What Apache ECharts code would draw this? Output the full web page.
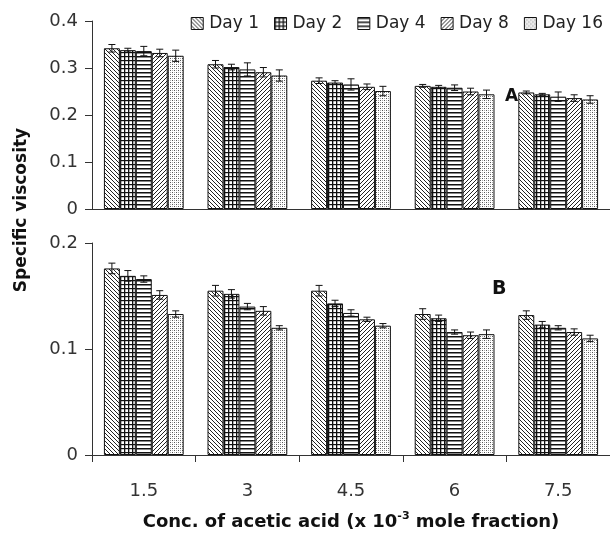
<!DOCTYPE html>
<html>
<head>
<meta charset="utf-8">
<script src="https://cdn.jsdelivr.net/npm/echarts@6/dist/echarts.min.js"></script>
<style>
  html, body { margin: 0; padding: 0; background: #fff; }
  #chart { width: 610px; height: 545px; }
</style>
</head>
<body>
<div id="chart"></div>
<script>
// categories (conc. of acetic acid, x10^-3 mole fraction)
const categories = ['1.5', '3', '4.5', '6', '7.5']
const days = ['Day 1', 'Day 2', 'Day 4', 'Day 8', 'Day 16']

// panel A: specific viscosity per day, one array per day across categories
const valuesA = [
  [0.342, 0.308, 0.273, 0.262, 0.248],
  [0.338, 0.302, 0.269, 0.260, 0.244],
  [0.336, 0.297, 0.265, 0.258, 0.239],
  [0.332, 0.291, 0.260, 0.250, 0.236],
  [0.326, 0.284, 0.251, 0.244, 0.233]
]
const errorsA = [
  [0.008, 0.008, 0.006, 0.003, 0.003],
  [0.004, 0.006, 0.004, 0.003, 0.002],
  [0.010, 0.014, 0.012, 0.006, 0.010],
  [0.008, 0.010, 0.006, 0.007, 0.007],
  [0.012, 0.012, 0.010, 0.009, 0.008]
]

// panel B
const valuesB = [
  [0.176, 0.155, 0.155, 0.133, 0.132],
  [0.169, 0.152, 0.143, 0.129, 0.123],
  [0.166, 0.140, 0.134, 0.116, 0.120],
  [0.151, 0.136, 0.128, 0.113, 0.116],
  [0.133, 0.120, 0.122, 0.114, 0.110]
]
const errorsB = [
  [0.005, 0.005, 0.005, 0.005, 0.004],
  [0.005, 0.004, 0.003, 0.003, 0.003],
  [0.003, 0.003, 0.003, 0.002, 0.002],
  [0.004, 0.004, 0.002, 0.003, 0.003],
  [0.003, 0.002, 0.002, 0.004, 0.003]
]

const ticksA = { min: 0, max: 0.4, interval: 0.1 }
const ticksB = { min: 0, max: 0.2, interval: 0.1 }

// hatch patterns, one per day
const makePattern = (kind) => {
  const c = document.createElement('canvas')
  const s = 4
  c.width = s
  c.height = s
  const ctx = c.getContext('2d')
  ctx.fillStyle = '#fff'
  ctx.fillRect(0, 0, s, s)
  ctx.strokeStyle = '#222'
  ctx.lineWidth = 1
  if (kind === 'back') {
    ctx.beginPath()
    ctx.moveTo(-1, -1); ctx.lineTo(s + 1, s + 1)
    ctx.moveTo(-1, s - 1); ctx.lineTo(1, s + 1)
    ctx.moveTo(s - 1, -1); ctx.lineTo(s + 1, 1)
    ctx.stroke()
  } else if (kind === 'fwd') {
    ctx.beginPath()
    ctx.moveTo(-1, s + 1); ctx.lineTo(s + 1, -1)
    ctx.moveTo(-1, 1); ctx.lineTo(1, -1)
    ctx.moveTo(s - 1, s + 1); ctx.lineTo(s + 1, s - 1)
    ctx.stroke()
  } else if (kind === 'grid') {
    ctx.fillStyle = '#111'
    ctx.fillRect(0, 0, 1.3, s)
    ctx.fillRect(0, 0, s, 1.2)
  } else if (kind === 'horiz') {
    ctx.fillStyle = '#111'
    ctx.fillRect(0, 0, s, 1.5)
  } else if (kind === 'dots') {
    ctx.fillStyle = '#555'
    ctx.fillRect(0, 0, 1, 1)
    ctx.fillRect(2, 2, 1, 1)
    ctx.fillStyle = '#aaa'
    ctx.fillRect(2, 0, 1, 1)
    ctx.fillRect(0, 2, 1, 1)
  }
  return { image: c, repeat: 'repeat' }
}
const patterns = ['back', 'grid', 'horiz', 'fwd', 'dots'].map(makePattern)

const chart = echarts.init(document.getElementById('chart'))

const font = '"DejaVu Sans", Verdana, sans-serif'
const nSeries = days.length
const catGap = 0.23

const errorSeries = (vals, errs, idx, axisIdx) => ({
  type: 'custom',
  name: days[idx] + ' err',
  xAxisIndex: axisIdx,
  yAxisIndex: axisIdx,
  z: 5,
  silent: true,
  data: vals.map((v, i) => [i, v, errs[i]]),
  renderItem: (params, api) => {
    const band = api.size([1, 0])[0]
    const barW = band * (1 - catGap) / nSeries
    const center = api.coord([api.value(0), api.value(1)])
    const x = center[0] + (idx - (nSeries - 1) / 2) * barW
    const top = api.coord([api.value(0), api.value(1) + api.value(2)])[1]
    const bot = api.coord([api.value(0), api.value(1) - api.value(2)])[1]
    const cap = 3.5
    const style = { stroke: '#111', lineWidth: 1 }
    return {
      type: 'group',
      children: [
        { type: 'line', shape: { x1: x, y1: top, x2: x, y2: bot }, style },
        { type: 'line', shape: { x1: x - cap, y1: top, x2: x + cap, y2: top }, style },
        { type: 'line', shape: { x1: x - cap, y1: bot, x2: x + cap, y2: bot }, style }
      ]
    }
  }
})

const barSeries = (vals, idx, axisIdx) => ({
  type: 'bar',
  name: days[idx],
  xAxisIndex: axisIdx,
  yAxisIndex: axisIdx,
  data: vals,
  barGap: '0%',
  barCategoryGap: (catGap * 100) + '%',
  itemStyle: { color: patterns[idx], borderColor: '#111', borderWidth: 1 }
})

const series = []
valuesA.forEach((v, i) => series.push(barSeries(v, i, 0)))
valuesB.forEach((v, i) => series.push(barSeries(v, i, 1)))
valuesA.forEach((v, i) => series.push(errorSeries(v, errorsA[i], i, 0)))
valuesB.forEach((v, i) => series.push(errorSeries(v, errorsB[i], i, 1)))

const yAxisBase = (t) => ({
  type: 'value',
  min: t.min,
  max: t.max,
  interval: t.interval,
  axisLine: { show: true, lineStyle: { color: '#333', width: 1 } },
  axisTick: { show: true, length: 7, lineStyle: { color: '#333' } },
  axisLabel: {
    color: '#333', fontSize: 18, fontFamily: font, margin: 14,
    formatter: (v) => String(Math.round(v * 10) / 10)
  },
  splitLine: { show: false }
})

const option = {
  animation: false,
  backgroundColor: '#fff',
  legend: {
    data: days,
    icon: 'rect',
    right: 2,
    top: 10,
    itemWidth: 12,
    itemHeight: 12,
    itemGap: 15,
    itemStyle: { borderColor: '#111', borderWidth: 1 },
    textStyle: { color: '#222', fontSize: 17, fontFamily: font, padding: [0, 0, 0, 1] }
  },
  grid: [
    { left: 92, top: 21, width: 525, height: 188 },
    { left: 92, top: 243, width: 525, height: 212 }
  ],
  xAxis: [
    {
      type: 'category',
      gridIndex: 0,
      data: categories,
      axisLine: { lineStyle: { color: '#333' } },
      axisTick: { show: false },
      axisLabel: { show: false }
    },
    {
      type: 'category',
      gridIndex: 1,
      data: categories,
      axisLine: { lineStyle: { color: '#333' } },
      axisTick: { show: true, length: 7, lineStyle: { color: '#333' } },
      axisLabel: { color: '#333', fontSize: 18, fontFamily: font, margin: 27 },
      name: '{a|Conc. of acetic acid (x 10}{s|-3}{a| mole fraction)}',
      nameLocation: 'middle',
      nameGap: 56,
      nameTextStyle: {
        rich: {
          a: { fontSize: 18, fontWeight: 'bold', fontFamily: font, color: '#111', verticalAlign: 'bottom' },
          s: { fontSize: 11, fontWeight: 'bold', fontFamily: font, color: '#111', verticalAlign: 'top', padding: [0, 0, 9, 0] }
        }
      }
    }
  ],
  yAxis: [
    Object.assign(yAxisBase(ticksA), { gridIndex: 0 }),
    Object.assign(yAxisBase(ticksB), { gridIndex: 1 })
  ],
  graphic: [
    {
      type: 'text', x: 22, y: 210,
      rotation: Math.PI / 2,
      style: {
        text: 'Specific viscosity', font: 'bold 17px ' + font, fill: '#111',
        textAlign: 'center', textVerticalAlign: 'middle'
      }
    },
    { type: 'text', left: 505, top: 88, style: { text: 'A', font: 'bold 17px ' + font, fill: '#111' } },
    { type: 'text', left: 492, top: 280, style: { text: 'B', font: 'bold 19px ' + font, fill: '#111' } }
  ],
  series
}

chart.setOption(option)
</script>
</body>
</html>
